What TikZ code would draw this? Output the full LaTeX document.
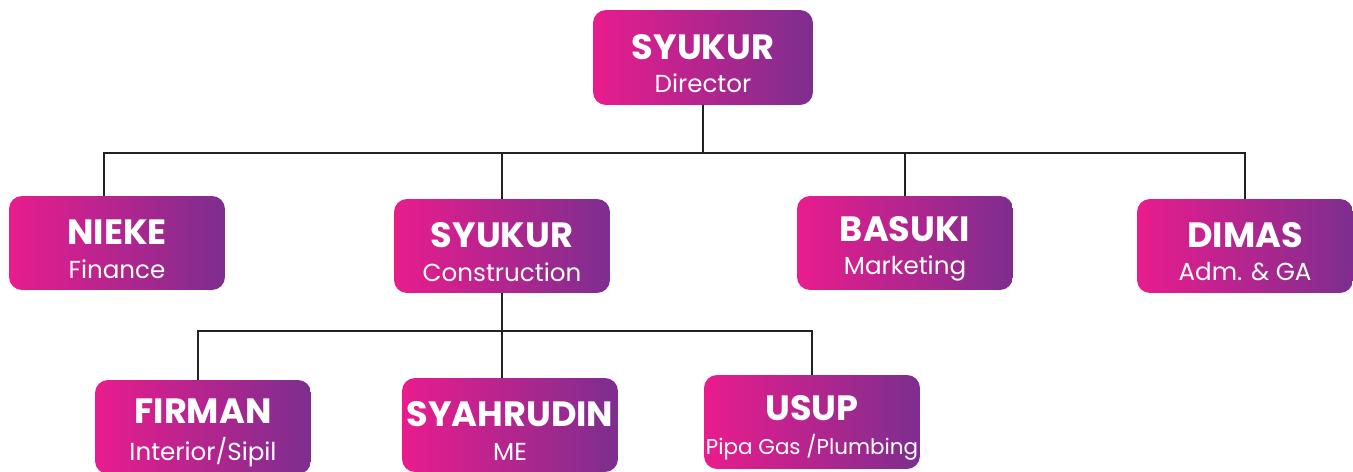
\documentclass[tikz,border=0pt]{standalone}
\usepackage{fontspec}
\setmainfont{Poppins}
\usepackage{tikz}
\usetikzlibrary{positioning}
\definecolor{pinkc}{HTML}{E91C8D}
\definecolor{purplec}{HTML}{7D2E8F}
\definecolor{linec}{HTML}{222222}
\tikzset{
    normal/.style={line width=1.4pt, draw=linec},
    box/.style={rounded corners=2.6mm, left color=pinkc, right color=purplec, text=white, align=center, minimum width=4.32cm, minimum height=1.88cm, inner sep=0pt}, % person boxes
    topbox/.style={style=box, minimum width=4.4cm, minimum height=1.9cm},
    e/.style={style=normal} % connector lines
}
% name on top, role below
\newcommand{\who}[3][14]{\rule{0pt}{21pt}{\fontsize{20}{20}\selectfont\bfseries #2}\\[7pt]{\fontsize{#1}{14}\selectfont #3}}
\begin{document}
\begin{tikzpicture}[x=0.02cm, y=-0.02cm]
        \useasboundingbox (0,0) rectangle (1353,472);
        \node[topbox] (dir) at (703, 57.5)
        {\who{SYUKUR}{Director}};
        \node[box] (nieke) at (117, 243)
        {\who{NIEKE}{Finance}};
        \node[box] (cons) at (502, 246)
        {\who{SYUKUR}{Construction}};
        \node[box] (basuki) at (905, 243)
        {\who{BASUKI}{Marketing}};
        \node[box] (dimas) at (1245, 246)
        {\who{DIMAS}{Adm. \& GA}};
        \node[box] (firman) at (203, 427)
        {\who{FIRMAN}{Interior/Sipil}};
        \node[box] (syah) at (510, 425)
        {\who{SYAHRUDIN}{ME}};
        \node[box] (usup) at (812, 422)
        {\who[12.2]{USUP}{Pipa Gas /Plumbing}};

        \coordinate (bus) at (703, 153);
        \coordinate (bus2) at (502, 331);
        \draw[e] (dir.south) -- (bus);
        \draw[e] ([xshift=-13*0.02cm]nieke.north) |- (bus) -| (dimas.north);
        \draw[e] (cons.north) -- (cons.north |- bus);
        \draw[e] (basuki.north) -- (basuki.north |- bus);
        \draw[e] (cons.south) -- (bus2);
        \draw[e] ([xshift=-5*0.02cm]firman.north) |- (bus2) -| (usup.north);
        \draw[e] (bus2) -- (bus2 |- syah.north);
      \end{tikzpicture}
\end{document}
